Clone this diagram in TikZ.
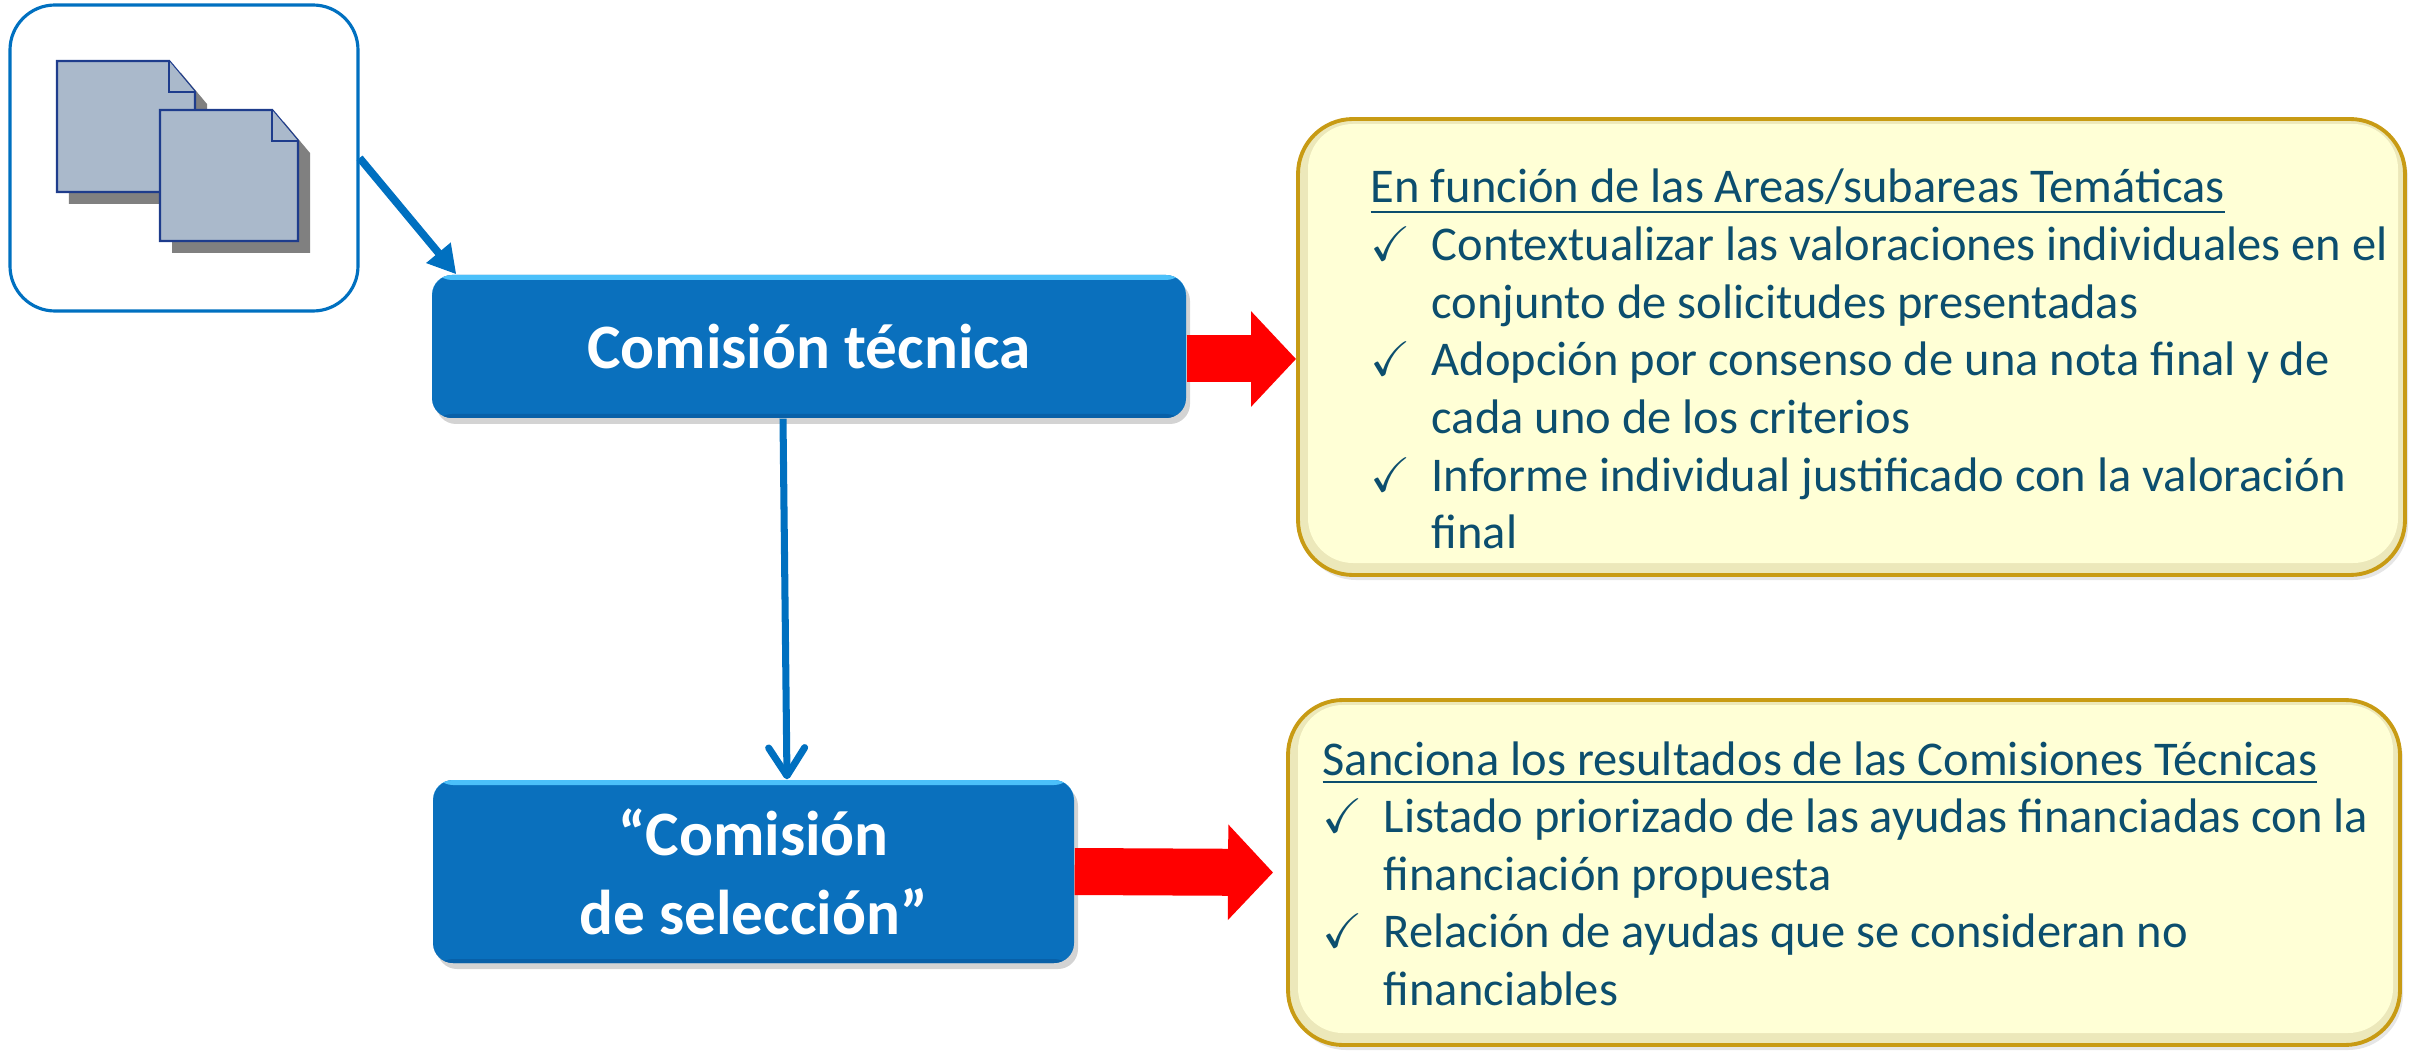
\documentclass[tikz,border=0pt]{standalone}
\usepackage{amssymb}
\usepackage{fontspec}
\setmainfont{Carlito}
\usetikzlibrary{arrows.meta,shadows}

\definecolor{azul}{RGB}{0,112,192}
\definecolor{azulcaja}{RGB}{10,112,189}
\definecolor{azulclaro}{RGB}{75,192,250}
\definecolor{azuloscuro}{RGB}{8,96,168}
\definecolor{textoazul}{RGB}{12,78,110}
\definecolor{oro}{RGB}{200,155,20}
\definecolor{crema}{RGB}{236,232,186}
\definecolor{amarillo}{RGB}{255,255,214}
\definecolor{papel}{RGB}{170,185,203}
\definecolor{bordepapel}{RGB}{30,60,140}

\tikzset{
  icono/.style={draw=azul, line width=0.9pt, rounded corners=0.45cm, minimum width=3.48cm, minimum height=3.06cm},
  hoja/.style={draw=bordepapel, line width=0.7pt, fill=papel},
  sombra/.style={fill=gray},
  comision/.style={rounded corners=0.2cm, fill=azulcaja, text=white, align=center, inner sep=2pt,
    font=\fontsize{18}{22.5}\selectfont\bfseries,
    drop shadow={opacity=0.35, shadow xshift=0.04cm, shadow yshift=-0.06cm},
    path picture={
      \fill[azulclaro] ([yshift=-0.05cm]path picture bounding box.north west) rectangle (path picture bounding box.north east);
      \fill[azuloscuro] (path picture bounding box.south west) rectangle ([yshift=0.04cm]path picture bounding box.south east);}},
  cuadro/.style={rounded corners=0.55cm, draw=oro, line width=1.1pt, fill=crema,
    drop shadow={opacity=0.2, shadow xshift=0.03cm, shadow yshift=-0.05cm},
    path picture={
      \fill[amarillo, rounded corners=0.45cm] ([shift={(0.1cm,-0.05cm)}]path picture bounding box.north west) rectangle ([shift={(-0.07cm,0.12cm)}]path picture bounding box.south east);}},
  lista/.style={text=textoazul, inner sep=0pt, anchor=base west, font=\fontsize{13.8}{16.4}\selectfont},
  flechaazul/.style={draw=azul, line width=2.2pt, -{Triangle[length=0.28cm,width=0.3cm]}},
  flechafina/.style={draw=azul, line width=2pt, -{Straight Barb[round,length=0.28cm,width=0.36cm]}},
  flecharoja/.style={draw=red, line width=0.47cm, -{Triangle[length=0.45cm,width=0.93cm]}}
}

\begin{document}
\begin{tikzpicture}
%\draw [lightgray](0,0) grid (24,10);
\useasboundingbox (0,0) rectangle (24.1,10.5);

\node[icono] (iconos) at (1.84,8.92) {};
\foreach \x/\y in {0.57/9.89, 1.60/9.40}{
  \fill[sombra] (\x+0.12,\y-0.12) -- ++(1.12,0) -- ++(0.26,-0.31) -- ++(0,-1) -- ++(-1.38,0) -- cycle;
  \draw[hoja] (\x,\y) -- ++(1.12,0) -- ++(0.26,-0.31) -- ++(0,-1) -- ++(-1.38,0) -- cycle;
  \draw[hoja] (\x+1.12,\y) -- ++(0,-0.31) -- ++(0.26,0);
}

\node[comision, minimum width=7.54cm, minimum height=1.43cm] (tecnica) at (8.09,7.035) {Comisión técnica};
\node[comision, minimum width=6.41cm, minimum height=1.83cm] (seleccion) at (7.535,1.785) {“Comisión\\de selección”};

\node[cuadro, minimum width=11.07cm, minimum height=4.56cm] (funcion) at (18.515,7.03) {};
\node[cuadro, minimum width=11.12cm, minimum height=3.45cm] (sanciona) at (18.44,1.775) {};

\node[lista] (funcionlista) at (13.70,8.47) {\begin{tabular}[t]{@{}p{0.61cm}@{}l@{}}
\multicolumn{2}{@{}l@{}}{\underline{En función de las Areas/subareas Temáticas}}\\
\checkmark & Contextualizar las valoraciones individuales en el\\
 & conjunto de solicitudes presentadas\\
\checkmark & Adopción por consenso de una nota final y de\\
 & cada uno de los criterios\\
\checkmark & Informe individual justificado con la valoración\\
 & final
\end{tabular}};

\node[lista] (sancionalista) at (13.22,2.75) {\begin{tabular}[t]{@{}p{0.61cm}@{}l@{}}
\multicolumn{2}{@{}l@{}}{\underline{Sanciona los resultados de las Comisiones Técnicas}}\\
\checkmark & Listado priorizado de las ayudas financiadas con la\\
 & financiación propuesta\\
\checkmark & Relación de ayudas que se consideran no\\
 & financiables
\end{tabular}};

\draw[flechaazul] (iconos.east) -- ([xshift=0.25cm]tecnica.north west);
\draw[flechafina] ([xshift=-0.26cm]tecnica.south) -- ([xshift=0.335cm]seleccion.north);
\draw[flecharoja] ([yshift=-0.125cm]tecnica.east) -- ([yshift=-0.12cm]funcion.west);
\draw[flecharoja] (seleccion.east) -- ([xshift=-0.13cm]sanciona.west);
\end{tikzpicture}
\end{document}
